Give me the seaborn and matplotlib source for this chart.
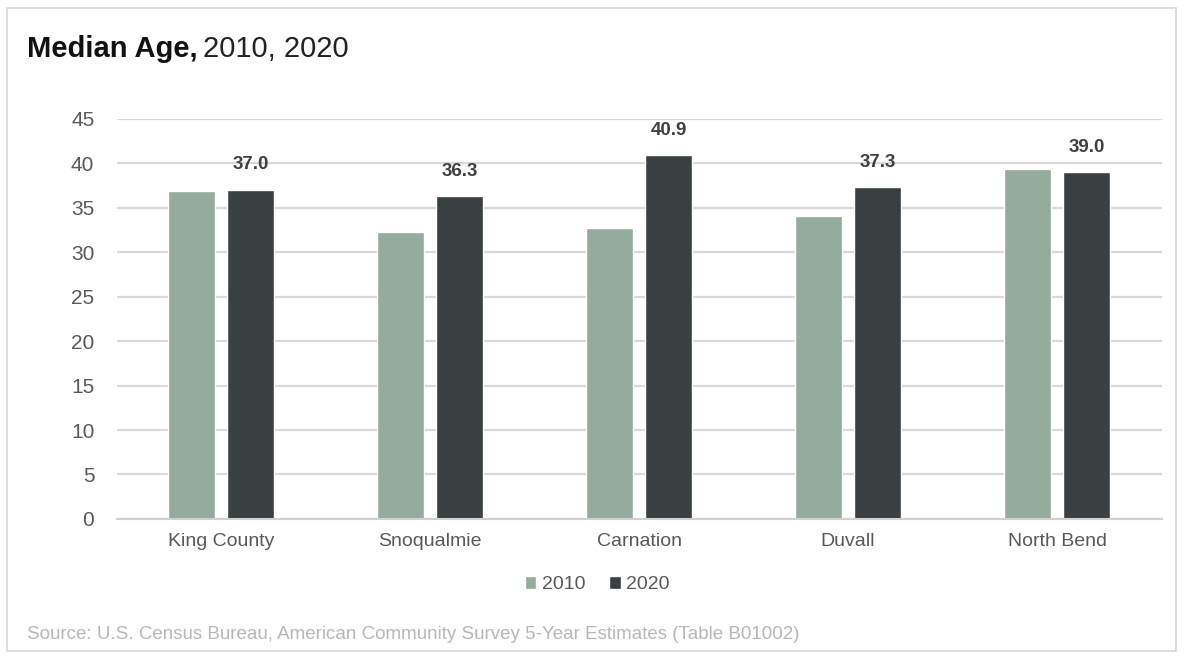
import numpy as np
import pandas as pd
import matplotlib.pyplot as plt
import seaborn as sns
from matplotlib.patches import Rectangle

places = ["King County", "Snoqualmie", "Carnation", "Duvall", "North Bend"]
years = ["2010", "2020"]
age_2010 = [36.9, 32.3, 32.7, 34.1, 39.4]
age_2020 = [37.0, 36.3, 40.9, 37.3, 39.0]

df = pd.DataFrame({
    "place": places * 2,
    "year": [years[0]] * len(places) + [years[1]] * len(places),
    "age": age_2010 + age_2020,
})

sns.set_theme(style="white")
plt.rcParams["font.family"] = ["Liberation Sans", "DejaVu Sans"]

fig = plt.figure(figsize=(11.89, 6.61), dpi=100)
ax = fig.add_axes([0.098, 0.215, 0.879, 0.605])

palette = {"2010": "#94ab9d", "2020": "#3a4042"}
sns.barplot(data=df, x="place", y="age", hue="year", palette=palette,
            width=0.57, gap=0.21, ax=ax, saturation=1, legend=True)

# labels only on the 2020 bars
ax.bar_label(ax.containers[1], fmt="%.1f", padding=12, fontsize=13.5,
             fontweight="bold", color="#404040")

ax.set_ylim(0, 45)
ax.set_yticks(np.arange(0, 46, 5))
ax.set_xlim(-0.5, len(places) - 0.5)
ax.yaxis.grid(True, color="#d9d9d9", linewidth=1.6)
ax.set_axisbelow(True)
ax.set_xlabel("")
ax.set_ylabel("")
for side in ["top", "right", "left"]:
    ax.spines[side].set_visible(False)
ax.spines["bottom"].set_color("#d0d0d0")
ax.spines["bottom"].set_linewidth(1.5)
ax.tick_params(axis="y", length=0, labelsize=15, colors="#595959", pad=16)
ax.tick_params(axis="x", length=0, labelsize=14, colors="#595959", pad=10)
ax.set_xticks(np.arange(-0.5, len(places), 1.0), minor=True)
ax.tick_params(axis="x", which="minor", length=5, color="#d0d0d0", width=1.2)

ax.legend(loc="upper center", bbox_to_anchor=(0.46, -0.1), ncol=2, frameon=False,
          fontsize=14, handlelength=0.6, handleheight=0.6, handletextpad=0.3,
          columnspacing=1.2, labelcolor="#595959")

t1 = fig.text(0.023, 0.914, "Median Age,", fontsize=21, fontweight="bold",
              color="#111111", va="baseline")
fig.canvas.draw()
bb = t1.get_window_extent().transformed(fig.transFigure.inverted())
fig.text(bb.x1 + 0.004, 0.914, "2010, 2020", fontsize=21, color="#222222", va="baseline")
fig.text(0.023, 0.034, "Source: U.S. Census Bureau, American Community Survey 5-Year Estimates (Table B01002)",
         fontsize=13.5, color="#b8b8b8")

fig.patches.append(Rectangle((0.006, 0.015), 0.983, 0.973, transform=fig.transFigure,
                             fill=False, edgecolor="#d8d8d8", linewidth=1.2))

fig.savefig("out.png", dpi=100)
